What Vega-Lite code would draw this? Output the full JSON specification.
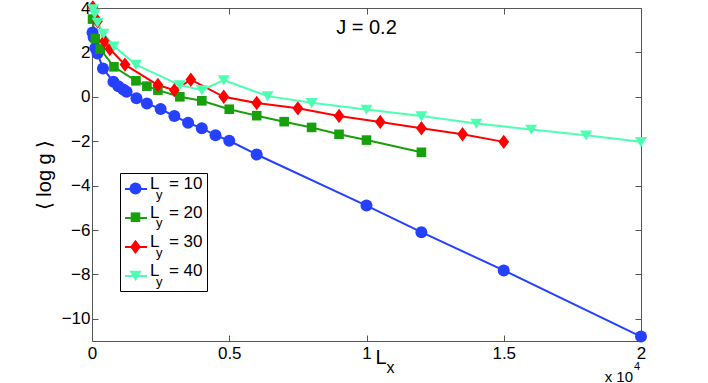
{
  "$schema": "https://vega.github.io/schema/vega-lite/v6.json",
  "width": 549,
  "height": 333,
  "autosize": {"type": "none"},
  "padding": {"left": 92, "top": 8, "right": 67, "bottom": 42},
  "background": "white",
  "config": {
    "font": "Liberation Sans",
    "view": {"stroke": "#555", "strokeWidth": 1},
    "axis": {"domain": false, "grid": false, "tickColor": "#555", "tickSize": -6, "tickWidth": 1, "labelFont": "Liberation Sans", "labelFontSize": 17, "labelColor": "#000", "labelFlush": false, "labelOverlap": false}
  },
  "data": {"values": [
    {"Ly": 10, "Lx": 20, "logg": 2.9}, {"Ly": 10, "Lx": 60, "logg": 2.68}, {"Ly": 10, "Lx": 120, "logg": 2.2}, {"Ly": 10, "Lx": 200, "logg": 1.95}, {"Ly": 10, "Lx": 400, "logg": 1.28}, {"Ly": 10, "Lx": 780, "logg": 0.68}, {"Ly": 10, "Lx": 960, "logg": 0.48}, {"Ly": 10, "Lx": 1140, "logg": 0.33}, {"Ly": 10, "Lx": 1260, "logg": 0.23}, {"Ly": 10, "Lx": 1620, "logg": -0.07}, {"Ly": 10, "Lx": 2000, "logg": -0.3}, {"Ly": 10, "Lx": 2500, "logg": -0.55}, {"Ly": 10, "Lx": 3000, "logg": -0.87}, {"Ly": 10, "Lx": 3500, "logg": -1.17}, {"Ly": 10, "Lx": 4000, "logg": -1.42}, {"Ly": 10, "Lx": 4500, "logg": -1.73}, {"Ly": 10, "Lx": 5000, "logg": -1.98}, {"Ly": 10, "Lx": 6000, "logg": -2.6}, {"Ly": 10, "Lx": 10000, "logg": -4.9}, {"Ly": 10, "Lx": 12000, "logg": -6.1}, {"Ly": 10, "Lx": 15000, "logg": -7.82}, {"Ly": 10, "Lx": 20000, "logg": -10.8},
    {"Ly": 20, "Lx": 20, "logg": 3.5}, {"Ly": 20, "Lx": 120, "logg": 2.62}, {"Ly": 20, "Lx": 300, "logg": 2.15}, {"Ly": 20, "Lx": 800, "logg": 1.35}, {"Ly": 20, "Lx": 1600, "logg": 0.72}, {"Ly": 20, "Lx": 2000, "logg": 0.48}, {"Ly": 20, "Lx": 2400, "logg": 0.3}, {"Ly": 20, "Lx": 3200, "logg": 0.0}, {"Ly": 20, "Lx": 4000, "logg": -0.18}, {"Ly": 20, "Lx": 5000, "logg": -0.56}, {"Ly": 20, "Lx": 6000, "logg": -0.85}, {"Ly": 20, "Lx": 7000, "logg": -1.12}, {"Ly": 20, "Lx": 8000, "logg": -1.38}, {"Ly": 20, "Lx": 9000, "logg": -1.69}, {"Ly": 20, "Lx": 10000, "logg": -1.95}, {"Ly": 20, "Lx": 12000, "logg": -2.5},
    {"Ly": 30, "Lx": 30, "logg": 4.03}, {"Ly": 30, "Lx": 200, "logg": 3.4}, {"Ly": 30, "Lx": 450, "logg": 2.5}, {"Ly": 30, "Lx": 650, "logg": 2.15}, {"Ly": 30, "Lx": 1200, "logg": 1.45}, {"Ly": 30, "Lx": 2400, "logg": 0.53}, {"Ly": 30, "Lx": 3000, "logg": 0.3}, {"Ly": 30, "Lx": 3600, "logg": 0.77}, {"Ly": 30, "Lx": 4800, "logg": 0.0}, {"Ly": 30, "Lx": 6000, "logg": -0.28}, {"Ly": 30, "Lx": 7500, "logg": -0.52}, {"Ly": 30, "Lx": 9000, "logg": -0.86}, {"Ly": 30, "Lx": 10500, "logg": -1.13}, {"Ly": 30, "Lx": 12000, "logg": -1.42}, {"Ly": 30, "Lx": 13500, "logg": -1.69}, {"Ly": 30, "Lx": 15000, "logg": -2.03},
    {"Ly": 40, "Lx": 40, "logg": 3.95}, {"Ly": 40, "Lx": 100, "logg": 3.75}, {"Ly": 40, "Lx": 200, "logg": 3.35}, {"Ly": 40, "Lx": 420, "logg": 2.85}, {"Ly": 40, "Lx": 800, "logg": 2.28}, {"Ly": 40, "Lx": 1600, "logg": 1.45}, {"Ly": 40, "Lx": 3200, "logg": 0.53}, {"Ly": 40, "Lx": 4000, "logg": 0.3}, {"Ly": 40, "Lx": 4800, "logg": 0.75}, {"Ly": 40, "Lx": 6400, "logg": 0.03}, {"Ly": 40, "Lx": 8000, "logg": -0.27}, {"Ly": 40, "Lx": 10000, "logg": -0.57}, {"Ly": 40, "Lx": 12000, "logg": -0.87}, {"Ly": 40, "Lx": 14000, "logg": -1.2}, {"Ly": 40, "Lx": 16000, "logg": -1.47}, {"Ly": 40, "Lx": 18000, "logg": -1.73}, {"Ly": 40, "Lx": 20000, "logg": -2.03}
  ]},
  "resolve": {"axis": {"x": "independent", "y": "independent"}},
  "layer": [
    {
      "mark": {"type": "line", "strokeWidth": 2},
      "encoding": {
        "x": {"field": "Lx", "type": "quantitative", "scale": {"domain": [0, 20000], "nice": false, "zero": false},
              "axis": {"values": [0, 5000, 10000, 15000, 20000], "labelExpr": "datum.value / 10000", "labelPadding": 10, "title": "L", "titleFont": "Liberation Sans", "titleFontSize": 20, "titleFontWeight": "normal", "titleColor": "#000", "titleX": 283, "titleY": 22, "titleAlign": "left", "titleBaseline": "alphabetic", "titleAnchor": "start"}},
        "y": {"field": "logg", "type": "quantitative", "scale": {"domain": [-11, 4], "nice": false, "zero": false},
              "axis": {"values": [-10, -8, -6, -4, -2, 0, 2, 4], "labelPadding": 8, "title": "⟨ log g ⟩", "titleFont": "Liberation Sans", "titleFontSize": 20, "titleFontWeight": "normal", "titleColor": "#000", "titleX": -48, "titleY": 166.5, "titleAngle": -90, "titleAlign": "center", "titleBaseline": "middle", "titleAnchor": "middle"}},
        "stroke": {"field": "Ly", "type": "nominal", "scale": {"domain": [10, 20, 30, 40], "range": ["#2541ff", "#18a00c", "#ff0000", "#4dffb0"]},
                   "legend": {"orient": "none", "legendX": 28, "legendY": 165, "title": "\u00a0", "titleOrient": "bottom", "titleFontSize": 7, "titlePadding": 0, "padding": 4, "strokeColor": "#000", "symbolSize": 484, "symbolStrokeWidth": 2, "symbolType": "stroke", "labelFontSize": 17, "labelOffset": 2, "rowPadding": 11, "labelBaseline": "alphabetic", "labelColor": "#000", "labelFont": "Liberation Sans", "labelExpr": "'L\u00a0\u00a0= ' + datum.label", "cornerRadius": 0}}
      }
    },
    {
      "mark": {"type": "point", "filled": true, "opacity": 1, "size": 144, "strokeWidth": 0},
      "encoding": {
        "x": {"field": "Lx", "type": "quantitative", "axis": null},
        "y": {"field": "logg", "type": "quantitative", "axis": null},
        "fill": {"field": "Ly", "type": "nominal", "scale": {"range": ["#2541ff", "#18a00c", "#ff0000", "#4dffb0"]},
                 "legend": {"orient": "none", "legendX": 33, "legendY": 170, "title": null, "padding": 4, "symbolSize": 144, "symbolStrokeWidth": 0, "labelFontSize": 13, "labelOffset": 14, "rowPadding": 8.7, "labelBaseline": "top", "labelColor": "#000", "labelFont": "Liberation Sans", "labelExpr": "'y'"}},
        "shape": {"field": "Ly", "type": "nominal", "scale": {"range": ["circle", "M-0.8,-0.8H0.8V0.8H-0.8Z", "M0,-1.2L0.9,0L0,1.2L-0.9,0Z", "M-1,-0.8L1,-0.8L0,0.9Z"]},
                  "legend": {"orient": "none", "legendX": 33, "legendY": 170, "title": null, "padding": 4, "symbolSize": 144, "symbolStrokeWidth": 0, "labelFontSize": 13, "labelOffset": 14, "rowPadding": 8.7, "labelBaseline": "top", "labelColor": "#000", "labelFont": "Liberation Sans", "labelExpr": "'y'"}}
      }
    },
    {
      "mark": {"type": "point", "opacity": 0},
      "encoding": {
        "x": {"field": "Lx", "type": "quantitative", "axis": {"orient": "top", "values": [0, 5000, 10000, 15000, 20000], "labels": false, "title": null}},
        "y": {"field": "logg", "type": "quantitative", "axis": {"orient": "right", "values": [-10, -8, -6, -4, -2, 0, 2, 4], "labels": false, "title": null}}
      }
    },
    {
      "data": {"values": [{}]},
      "mark": {"type": "text", "text": "J = 0.2", "font": "Liberation Sans", "fontSize": 20, "align": "center", "baseline": "alphabetic", "dy": 26, "color": "#000"},
      "encoding": {
        "x": {"datum": 10000, "type": "quantitative", "axis": null},
        "y": {"datum": 4, "type": "quantitative", "axis": null}
      }
    },
    {
      "data": {"values": [{}]},
      "mark": {"type": "text", "text": "x", "font": "Liberation Sans", "fontSize": 16, "align": "left", "baseline": "alphabetic", "dx": 20, "dy": 32, "color": "#000"},
      "encoding": {
        "x": {"datum": 10000, "type": "quantitative", "axis": null},
        "y": {"datum": -11, "type": "quantitative", "axis": null}
      }
    },
    {
      "data": {"values": [{}]},
      "mark": {"type": "text", "text": "x 10", "font": "Liberation Sans", "fontSize": 15, "align": "right", "baseline": "alphabetic", "dx": -8, "dy": 40.5, "color": "#000"},
      "encoding": {
        "x": {"datum": 20000, "type": "quantitative", "axis": null},
        "y": {"datum": -11, "type": "quantitative", "axis": null}
      }
    },
    {
      "data": {"values": [{}]},
      "mark": {"type": "text", "text": "4", "font": "Liberation Sans", "fontSize": 11, "align": "left", "baseline": "alphabetic", "dx": -7, "dy": 29, "color": "#000"},
      "encoding": {
        "x": {"datum": 20000, "type": "quantitative", "axis": null},
        "y": {"datum": -11, "type": "quantitative", "axis": null}
      }
    }
  ]
}
